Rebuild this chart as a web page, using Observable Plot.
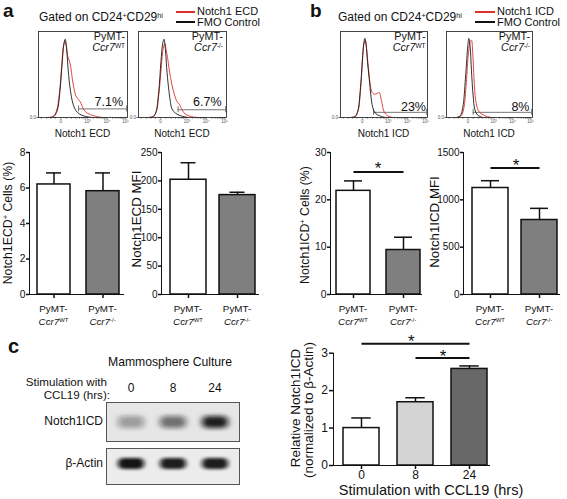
<!DOCTYPE html>
<html><head><meta charset="utf-8">
<script src="https://cdn.jsdelivr.net/npm/d3@7"></script>
<script src="https://cdn.jsdelivr.net/npm/@observablehq/plot@0.6"></script>
<style>
html,body{margin:0;padding:0;background:#fff;}
#fig{position:relative;width:567px;height:499px;overflow:hidden;font-family:"Liberation Sans",Arial,Helvetica,sans-serif;color:#111;background:#fff;}
#fig svg{position:absolute;overflow:visible;}
.t{position:absolute;white-space:nowrap;}
.t sup{font-size:0.6em;position:relative;top:-0.5em;vertical-align:baseline;line-height:0;}
.bar [aria-label^="y-axis"], .bar [aria-label^="x-axis"]{stroke-width:1.5px;}
.lg{position:absolute;height:2px;}
</style>
</head><body><div id="fig"></div>
<script>
// ---------------- data ----------------
const genotypes = ["WT", "KO"];
const ecdPct = [6.2, 5.82];
const ecdPctErr = [6.85, 6.85];
const ecdMfi = [202, 175];
const ecdMfiErr = [232, 180];
const icdPct = [21.9, 9.4];
const icdPctErr = [24.0, 12.1];
const icdMfi = [1125, 787];
const icdMfiErr = [1202, 910];
const hours = ["0", "8", "24"];
const relIcd = [1.0, 1.69, 2.58];
const relIcdErr = [1.27, 1.81, 2.66];
const blotNotch = [0.36, 0.56, 0.92];
const blotActin = [0.97, 0.93, 0.93];
const barFillsAB = ["#ffffff", "#7f7f7f"];
const barFillsC = ["#ffffff", "#d4d4d4", "#686868"];
const sigB1 = [{from: "WT", to: "KO", y: 25.9}];
const sigB2 = [{from: "WT", to: "KO", y: 1335}];
const sigC = [{from: "0", to: "24", y: 3.25}, {from: "8", to: "24", y: 2.87}];

// flow histograms: [display position 0..1, normalized count]
const histTicks = [0.03,0.09,0.14,0.19,0.25,0.31,0.37,0.42,0.46,0.49,0.51,0.53,0.55,0.616,0.655,0.682,0.704,0.721,0.736,0.749,0.76,0.77,0.833,0.87,0.896,0.917,0.933,0.947,0.96,0.97,0.98];
const histTickText = new Map([[0.25, "0"], [0.55, "10³"], [0.77, "10⁴"], [0.98, "10⁵"]]);
const a1Fmo = [[0.12,0],[0.17,0.01],[0.21,0.08],[0.24,0.3],[0.265,0.62],[0.285,0.85],[0.30,0.91],[0.315,0.82],[0.33,0.6],[0.35,0.38],[0.37,0.24],[0.39,0.15],[0.42,0.08],[0.46,0.04],[0.52,0.015],[0.6,0]];
const a1Ecd = [[0.1,0],[0.16,0.01],[0.2,0.07],[0.235,0.28],[0.26,0.6],[0.28,0.83],[0.295,0.88],[0.31,0.84],[0.325,0.72],[0.34,0.68],[0.36,0.6],[0.38,0.45],[0.40,0.33],[0.42,0.25],[0.45,0.21],[0.48,0.16],[0.51,0.09],[0.55,0.05],[0.62,0.02],[0.72,0]];
const a2Fmo = [[0.12,0],[0.17,0.01],[0.2,0.07],[0.23,0.3],[0.255,0.65],[0.275,0.86],[0.29,0.91],[0.305,0.8],[0.32,0.58],[0.34,0.36],[0.36,0.2],[0.38,0.1],[0.42,0.05],[0.48,0.02],[0.56,0]];
const a2Ecd = [[0.1,0],[0.16,0.01],[0.2,0.06],[0.23,0.26],[0.26,0.6],[0.28,0.8],[0.30,0.86],[0.315,0.78],[0.33,0.7],[0.35,0.55],[0.38,0.38],[0.41,0.26],[0.44,0.18],[0.46,0.16],[0.49,0.1],[0.53,0.04],[0.6,0.01],[0.68,0]];
const b1Fmo = [[0.12,0],[0.17,0.01],[0.2,0.08],[0.23,0.35],[0.255,0.72],[0.27,0.88],[0.28,0.92],[0.295,0.84],[0.31,0.65],[0.33,0.45],[0.35,0.25],[0.37,0.12],[0.40,0.05],[0.45,0.02],[0.52,0]];
const b1Icd = [[0.11,0],[0.16,0.01],[0.2,0.07],[0.23,0.32],[0.255,0.7],[0.27,0.86],[0.285,0.9],[0.30,0.8],[0.32,0.58],[0.34,0.4],[0.36,0.3],[0.39,0.27],[0.42,0.28],[0.445,0.29],[0.47,0.2],[0.50,0.07],[0.54,0.02],[0.6,0]];
const b2Fmo = [[0.12,0],[0.16,0.02],[0.19,0.12],[0.22,0.45],[0.245,0.8],[0.26,0.92],[0.275,0.82],[0.29,0.55],[0.31,0.25],[0.33,0.09],[0.36,0.03],[0.42,0]];
const b2Icd = [[0.12,0],[0.17,0.02],[0.2,0.1],[0.23,0.4],[0.255,0.75],[0.275,0.88],[0.29,0.9],[0.305,0.75],[0.32,0.45],[0.34,0.2],[0.37,0.08],[0.41,0.04],[0.46,0.015],[0.52,0]];
const gateA1 = {x1: 0.45, x2: 0.99, y: 0.10};
const gateA2 = {x1: 0.45, x2: 0.99, y: 0.09};
const gateB1 = {x1: 0.38, x2: 0.99, y: 0.06};
const gateB2 = {x1: 0.31, x2: 0.99, y: 0.06};

// ---------------- helpers ----------------
const HF = '"Liberation Sans", Arial, Helvetica, sans-serif';
const fig = document.getElementById("fig");
function place(svg, left, top) {
  svg.style.position = "absolute"; svg.style.left = left + "px"; svg.style.top = top + "px";
  fig.appendChild(svg); return svg;
}
function txt(html, x, base, size, opt = {}) {
  const lh = opt.lh || size * 1.15;
  const d = document.createElement("div");
  d.className = "t"; d.innerHTML = html;
  d.style.fontSize = size + "px"; d.style.lineHeight = lh + "px";
  d.style.top = (base - ((lh - 1.117 * size) / 2 + 0.905 * size)) + "px";
  d.style.left = x + "px";
  const a = opt.anchor || "start";
  d.style.transform = a === "middle" ? "translateX(-50%)" : a === "end" ? "translateX(-100%)" : "none";
  d.style.textAlign = a === "middle" ? "center" : a === "end" ? "right" : "left";
  if (opt.weight) d.style.fontWeight = opt.weight;
  fig.appendChild(d); return d;
}
function vtxt(html, cx, cy, size) {
  const d = document.createElement("div");
  d.className = "t"; d.innerHTML = html;
  d.style.fontSize = size + "px"; d.style.lineHeight = "1";
  d.style.left = cx + "px"; d.style.top = cy + "px";
  d.style.transform = "translate(-50%,-50%) rotate(-90deg)";
  fig.appendChild(d); return d;
}
function legendLine(x, y, w, color) {
  const d = document.createElement("div");
  d.className = "lg"; d.style.left = x + "px"; d.style.top = (y - 1) + "px";
  d.style.width = w + "px"; d.style.background = color; fig.appendChild(d);
}
function bandCenters(svg, left, cats) {
  const s = svg.scale("x");
  return cats.map(c => left + s.apply(c) + s.bandwidth / 2);
}

function barChart(o) {
  const data = o.cats.map((c, i) => ({c, v: o.vals[i], e: o.errs[i], f: o.fills[i]}));
  const marks = [
    Plot.ruleX(data, {x: "c", y1: "v", y2: "e", stroke: "#111", strokeWidth: 1.5}),
    Plot.tickY(data, {x: "c", y: "e", stroke: "#111", strokeWidth: 1.5, inset: o.capInset}),
    Plot.barY(data, {x: "c", y: "v", fill: "f", stroke: "#111", strokeWidth: 1.5})
  ];
  if (o.sig) marks.push(Plot.link(o.sig, {x1: "from", x2: "to", y1: "y", y2: "y", stroke: "#111", strokeWidth: 2}));
  const svg = Plot.plot({
    width: o.width, height: o.height,
    marginLeft: o.ml, marginRight: o.mr, marginTop: o.mt, marginBottom: o.mb,
    style: {fontSize: o.fs + "px", fontFamily: HF, color: "#111", background: "transparent", overflow: "visible"},
    color: {type: "identity"},
    x: {domain: o.cats, paddingInner: o.pi, paddingOuter: o.po, align: o.align, tickSize: 4, tickPadding: 1,
        tickFormat: o.xfmt || (() => ""), label: null, line: true},
    y: {domain: o.yDomain, ticks: o.yTicks, tickFormat: d3.format("d"), tickSize: o.yts ?? 3, tickPadding: o.ytp ?? 1,
        label: null, line: true},
    marks
  });
  svg.classList.add("bar");
  return place(svg, o.left, o.top);
}

function histo(o) {
  const ml = 10, mt = 6, mr = 3, mb = 12;
  const svg = Plot.plot({
    width: ml + o.w + mr, height: mt + o.h + mb,
    marginLeft: ml, marginTop: mt, marginRight: mr, marginBottom: mb,
    style: {fontSize: "4.5px", fontFamily: HF, color: "#555", background: "transparent", overflow: "visible"},
    x: {domain: [0, 1], ticks: histTicks, tickFormat: d => histTickText.get(d) ?? "", tickSize: 1.5, tickPadding: 1, label: null},
    y: {domain: [0, 1], ticks: [0], tickSize: 1.5, tickPadding: 1, label: null},
    marks: [
      Plot.ruleY([o.gate], {x1: "x1", x2: "x2", y: "y", stroke: "#666", strokeWidth: 0.9}),
      Plot.ruleX([o.gate.x1, o.gate.x2], {y1: o.gate.y - 0.035, y2: o.gate.y + 0.035, stroke: "#666", strokeWidth: 0.9}),
      Plot.line(o.stain, {stroke: "#e0302c", strokeWidth: 0.9, curve: "catmull-rom"}),
      Plot.line(o.ctrl, {stroke: "#1a1a1a", strokeWidth: 0.9, curve: "catmull-rom"}),
      Plot.frame({stroke: "#333", strokeWidth: 0.9})
    ]
  });
  return place(svg, o.left, o.top);
}

function blot(o) {
  const data = hours.map((h, i) => ({lane: h, v: o.vals[i]}));
  const svg = Plot.plot({
    width: o.w, height: o.h, margin: 0,
    style: {background: "transparent", overflow: "visible"},
    x: {domain: hours, paddingInner: 0.25, paddingOuter: 0.18, axis: null},
    y: {domain: ["band"], padding: o.pad, align: o.align, axis: null},
    opacity: {domain: [0, 1], range: [0, 1]},
    marks: [
      Plot.frame({fill: o.bg}),
      Plot.cell(data, {x: "lane", y: () => "band", fill: "#111", fillOpacity: "v",
                       insetLeft: 3, insetRight: 3, insetTop: o.inset, insetBottom: o.inset, rx: 5}),
      Plot.frame({stroke: "#555", strokeWidth: 1})
    ]
  });
  const id = "blur" + o.id;
  const sel = d3.select(svg);
  const f = sel.insert("defs", ":first-child").append("filter").attr("id", id)
    .attr("x", "-30%").attr("y", "-150%").attr("width", "160%").attr("height", "400%");
  f.append("feGaussianBlur").attr("stdDeviation", o.blur);
  sel.selectAll('g[aria-label="cell"]').attr("filter", `url(#${id})`);
  return place(svg, o.left, o.top);
}

const WT = 'PyMT-<br><i>Ccr7</i><sup>WT</sup>';
const KO = 'PyMT-<br><i>Ccr7</i><sup>-/-</sup>';

// ---------------- panel a ----------------
txt("a", 3, 17.5, 19, {weight: "bold", lh: 16});
txt("Gated on CD24<sup>+</sup>CD29<sup>hi</sup>", 39, 22.5, 12);
legendLine(176, 12, 19, "#e0302c");
legendLine(176, 22, 19, "#111");
txt("Notch1 ECD", 197, 15.5, 11);
txt("FMO Control", 197, 26, 11);
histo({left: 28, top: 25, w: 89, h: 86, ctrl: a1Fmo, stain: a1Ecd, gate: gateA1});
histo({left: 128, top: 25, w: 88, h: 86, ctrl: a2Fmo, stain: a2Ecd, gate: gateA2});
txt(WT, 125, 40, 10.8, {anchor: "end", lh: 11});
txt(KO, 223, 40, 10.8, {anchor: "end", lh: 11});
txt("7.1%", 123, 107, 12.5, {anchor: "end"});
txt("6.7%", 221.5, 107, 12.5, {anchor: "end"});
txt("Notch1 ECD", 82.5, 137, 10, {anchor: "middle"});
txt("Notch1 ECD", 182, 137, 10, {anchor: "middle"});

const pA1 = barChart({left: 0, top: 140, width: 130, height: 164, ml: 29, mr: 7, mt: 12, mb: 10,
  cats: genotypes, vals: ecdPct, errs: ecdPctErr, fills: barFillsAB, yDomain: [0, 8], yTicks: [0, 2, 4, 6, 8],
  pi: 0.33, po: 0.12, align: 0.68, capInset: 9, fs: 10.3});
const pA2 = barChart({left: 132, top: 140, width: 130, height: 164, ml: 29, mr: 4, mt: 12, mb: 10,
  cats: genotypes, vals: ecdMfi, errs: ecdMfiErr, fills: barFillsAB, yDomain: [0, 250], yTicks: [0, 50, 100, 150, 200, 250],
  pi: 0.265, po: 0.122, align: 0.75, capInset: 10.5, fs: 10});
vtxt("Notch1ECD<sup>+</sup> Cells (%)", 8, 223, 12.3);
vtxt("Notch1ECD MFI", 136.5, 219, 13.3);
bandCenters(pA1, 0, genotypes).forEach((x, i) => txt(i ? KO : WT, x, 312, 9.8, {anchor: "middle", lh: 13}));
bandCenters(pA2, 132, genotypes).forEach((x, i) => txt(i ? KO : WT, x, 312, 9.8, {anchor: "middle", lh: 13}));

// ---------------- panel b ----------------
txt("b", 310, 17.5, 19, {weight: "bold", lh: 16});
txt("Gated on CD24<sup>+</sup>CD29<sup>hi</sup>", 338, 22.5, 12);
legendLine(475, 12, 20, "#e0302c");
legendLine(475, 22, 20, "#111");
txt("Notch1 ICD", 497, 15.5, 11);
txt("FMO Control", 497, 26, 11);
histo({left: 330, top: 25, w: 87, h: 86, ctrl: b1Fmo, stain: b1Icd, gate: gateB1});
histo({left: 436, top: 25, w: 86, h: 86, ctrl: b2Fmo, stain: b2Icd, gate: gateB2});
txt(WT, 425.5, 40, 10.8, {anchor: "end", lh: 11});
txt(KO, 530, 40, 10.8, {anchor: "end", lh: 11});
txt("23%", 426, 111.5, 12.5, {anchor: "end"});
txt("8%", 529.5, 111.5, 12.5, {anchor: "end"});
txt("Notch1 ICD", 383.5, 137, 10, {anchor: "middle"});
txt("Notch1 ICD", 489, 137, 10, {anchor: "middle"});

const pB1 = barChart({left: 301, top: 140, width: 124, height: 164, ml: 29, mr: 4, mt: 12, mb: 10,
  cats: genotypes, vals: icdPct, errs: icdPctErr, fills: barFillsAB, yDomain: [0, 30], yTicks: [0, 10, 20, 30],
  pi: 0.32, po: 0.07, align: 0.9, capInset: 8, fs: 10.3, sig: sigB1});
const pB2 = barChart({left: 434, top: 140, width: 129, height: 164, ml: 29, mr: 4, mt: 12, mb: 10,
  cats: genotypes, vals: icdMfi, errs: icdMfiErr, fills: barFillsAB, yDomain: [0, 1500], yTicks: [0, 500, 1000, 1500],
  pi: 0.265, po: 0.112, align: 0.85, capInset: 9, fs: 10, sig: sigB2});
vtxt("Notch1ICD<sup>+</sup> Cells (%)", 304.7, 225, 12.3);
vtxt("Notch1ICD MFI", 434.5, 221.7, 13.3);
bandCenters(pB1, 301, genotypes).forEach((x, i) => txt(i ? KO : WT, x, 312, 9.8, {anchor: "middle", lh: 13}));
bandCenters(pB2, 434, genotypes).forEach((x, i) => txt(i ? KO : WT, x, 312, 9.8, {anchor: "middle", lh: 13}));
txt("*", 378, 174.7, 17, {anchor: "middle"});
txt("*", 516, 171.4, 17, {anchor: "middle"});

// ---------------- panel c ----------------
txt("c", 8, 353, 20, {weight: "bold", lh: 18});
txt("Mammosphere Culture", 108, 366, 12.2);
txt("Stimulation with", 107, 386.3, 11.6, {anchor: "end", lh: 12});
txt("CCL19 (hrs):", 110, 399.5, 11.6, {anchor: "end", lh: 12});
const blot1 = blot({id: 1, left: 106, top: 402, w: 133, h: 39, vals: blotNotch, bg: "#e6e6e6", pad: 0.35, align: 0.55, inset: 3, blur: "3 2.2"});
blot({id: 2, left: 106, top: 448, w: 133, h: 36, vals: blotActin, bg: "#ececec", pad: 0.4, align: 0.36, inset: 2, blur: "2.5 1.8"});
bandCenters(blot1, 106, hours).forEach((x, i) => txt(hours[i], x, 393, 12, {anchor: "middle"}));
txt("Notch1ICD", 103, 425.7, 12, {anchor: "end"});
txt("β-Actin", 103, 468, 12, {anchor: "end"});

barChart({left: 300, top: 340, width: 193, height: 145, ml: 33, mr: 4, mt: 12.7, mb: 20,
  cats: hours, vals: relIcd, errs: relIcdErr, fills: barFillsC, yDomain: [0, 3], yTicks: [0, 1, 2, 3],
  pi: 0.329, po: 0.09, align: 0.84, capInset: 8.3, fs: 12, sig: sigC, xfmt: d => d, yts: 4, ytp: 1.5});
vtxt("Relative Notch1ICD", 295.5, 408.3, 13.5);
vtxt("(normalized to β-Actin)", 309, 410, 13.5);
txt("Stimulation with CCL19 (hrs)", 431, 495.7, 14.5, {anchor: "middle"});
txt("*", 411.3, 348, 17, {anchor: "middle"});
txt("*", 443, 362.4, 17, {anchor: "middle"});
</script></body></html>
